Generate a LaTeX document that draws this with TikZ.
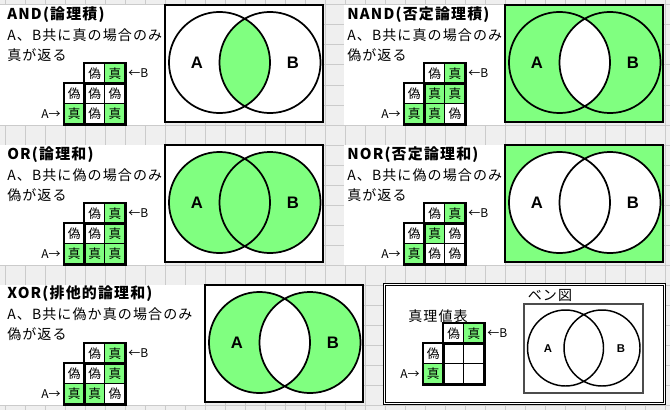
\documentclass[tikz,border=0pt]{standalone}
\usepackage{fontspec}
\setmainfont{Noto Sans CJK JP}
\newfontfamily\jpwide{Noto Sans CJK JP}[LetterSpace=8]
\newfontfamily\arial{Liberation Sans}
\usetikzlibrary{positioning}
\definecolor{vgreen}{HTML}{80FF80}
\definecolor{sheetbg}{HTML}{EFEFEF}
\definecolor{sheetgrid}{HTML}{CBCBCB}
\newcommand{\cellsz}{20.4}
\newcommand{\vrad}{37.9pt}

% truth table: prefix, x, y of top-left corner, then the four result cells
\newcommand{\truthtab}[7]{%
  \node[fv] (#1-b0) at (#2+1.5*\cellsz,#3+0.5*\cellsz) {};
  \node[tv] (#1-b1) at (#2+2.5*\cellsz,#3+0.5*\cellsz) {};
  \node[fv] (#1-a0) at (#2+0.5*\cellsz,#3+1.5*\cellsz) {};
  \node[tv] (#1-a1) at (#2+0.5*\cellsz,#3+2.5*\cellsz) {};
  \node[#4] (#1-d00) at (#2+1.5*\cellsz,#3+1.5*\cellsz) {};
  \node[#5] (#1-d01) at (#2+2.5*\cellsz,#3+1.5*\cellsz) {};
  \node[#6] (#1-d10) at (#2+1.5*\cellsz,#3+2.5*\cellsz) {};
  \node[#7] (#1-d11) at (#2+2.5*\cellsz,#3+2.5*\cellsz) {};
  \draw[tabframe] (#1-b0.north west) rectangle (#1-b1.south east);
  \draw[tabframe] (#1-a0.north west) rectangle (#1-a1.south east);
  \draw[tabframe] (#1-d00.north west) rectangle (#1-d11.south east);
  \node[arrtxt, right=1pt of #1-b1] (#1-bl) {←B};
  \node[arrtxt, left=1pt of #1-a1] (#1-al) {A→};
}

% venn box: prefix, x, y of top-left corner, fill code
\newcommand{\vennbox}[4]{%
  \coordinate (#1-nw) at (#2,#3);
  \coordinate (#1-se) at (#2+158,#3+117);
  \coordinate (#1-ca) at (#2+54.5,#3+57.5);
  \coordinate (#1-cb) at (#2+105,#3+57.5);
  \fill[white] (#1-nw) rectangle (#1-se);
  #4
  \draw[ring] (#1-ca) circle[radius=\vrad] (#1-cb) circle[radius=\vrad];
  \draw[vframe] (#1-nw) rectangle (#1-se);
  \node[vlabel] (#1-la) at (#2+32,#3+58) {A};
  \node[vlabel] (#1-lb) at (#2+128,#3+58) {B};
}

\begin{document}
\begin{tikzpicture}[x=0.75pt, y=-0.75pt,
  cell/.style={draw, line width=0.5pt, minimum size=15.3pt, inner sep=0pt, font=\fontsize{9.5}{10}\selectfont},
  tv/.style={cell, fill=vgreen, execute at begin node={真}},
  fv/.style={cell, fill=white, execute at begin node={偽}},
  ev/.style={cell, fill=white},
  tabframe/.style={line width=1.6pt},
  arrtxt/.style={inner sep=1pt, font=\fontsize{9}{10}\selectfont},
  ring/.style={line width=1.3pt},
  vframe/.style={line width=1.7pt},
  vlabel/.style={font=\arial\bfseries\fontsize{12.5}{14}\selectfont},
  optitle/.style={anchor=west, inner sep=0pt, font=\jpwide\bfseries\fontsize{11.2}{13}\selectfont},
  desc/.style={anchor=west, inner sep=0pt, align=left, font=\jpwide\fontsize{10.5}{15}\selectfont},
  panel/.style={fill=white}]
  % sheet background
  \useasboundingbox (0,0) rectangle (670,410);
  \fill[sheetbg] (0,0) rectangle (670,410);
  \foreach \gx in {5,25,...,665} {\draw[sheetgrid, line width=0.75pt] (\gx,0) -- (\gx,410);}
  \foreach \gy in {5,25,...,405} {\draw[sheetgrid, line width=0.75pt] (0,\gy) -- (670,\gy);}
  \fill[panel] (0,5) rectangle (165,125);
  \fill[panel] (344,5) rectangle (505,125);
  \fill[panel] (0,145) rectangle (165,265);
  \fill[panel] (344,145) rectangle (505,265);
  \fill[panel] (0,285) rectangle (205,405);
  \fill[panel] (383,283) rectangle (666,405);
  % AND
  \node[optitle] (and-title) at (7,15) {AND(論理積)};
  \node[desc] (and-desc) at (7,45) {A、B共に真の場合のみ\\真が返る};
  \truthtab{and}{64}{63}{fv}{fv}{fv}{tv}
  \vennbox{and}{165}{5}{\begin{scope}\clip (and-ca) circle[radius=\vrad]; \fill[vgreen] (and-cb) circle[radius=\vrad]; \end{scope}}
  % NAND
  \node[optitle] (nand-title) at (347,15) {NAND(否定論理積)};
  \node[desc] (nand-desc) at (347,45) {A、B共に真の場合のみ\\偽が返る};
  \truthtab{nand}{404}{63}{tv}{tv}{tv}{fv}
  \vennbox{nand}{505}{5}{\fill[vgreen] (nand-nw) rectangle (nand-se); \begin{scope}\clip (nand-ca) circle[radius=\vrad]; \fill[white] (nand-cb) circle[radius=\vrad]; \end{scope}}
  % OR
  \node[optitle] (or-title) at (7,155) {OR(論理和)};
  \node[desc] (or-desc) at (7,185) {A、B共に偽の場合のみ\\偽が返る};
  \truthtab{or}{64}{203}{fv}{tv}{tv}{tv}
  \vennbox{or}{165}{145}{\fill[vgreen] (or-ca) circle[radius=\vrad] (or-cb) circle[radius=\vrad];}
  % NOR
  \node[optitle] (nor-title) at (347,155) {NOR(否定論理和)};
  \node[desc] (nor-desc) at (347,185) {A、B共に偽の場合のみ\\真が返る};
  \truthtab{nor}{404}{203}{tv}{fv}{fv}{fv}
  \vennbox{nor}{505}{145}{\fill[vgreen] (nor-nw) rectangle (nor-se); \fill[white] (nor-ca) circle[radius=\vrad] (nor-cb) circle[radius=\vrad];}
  % XOR
  \node[optitle] (xor-title) at (7,294) {XOR(排他的論理和)};
  \node[desc] (xor-desc) at (7,324) {A、B共に偽か真の場合のみ\\偽が返る};
  \truthtab{xor}{64}{343}{fv}{tv}{tv}{fv}
  \vennbox{xor}{205}{285}{\fill[vgreen, even odd rule] (xor-ca) circle[radius=\vrad] (xor-cb) circle[radius=\vrad];}
  % legend
  \draw[double, line width=0.7pt, double distance=1.1pt] (384.3,284.3) rectangle (664.7,403.7);
  \node[desc, anchor=center] (key-title) at (438,316) {真理値表};
  \truthtab{key}{423}{323}{ev}{ev}{ev}{ev}
  \node[desc, anchor=center] (venn-title) at (550,295) {ベン図};
  \draw[fill=white, draw=black!70, line width=1.5pt] (524,304) rectangle (643,393);
  \coordinate (venn-ca) at (565.5,348);
  \coordinate (venn-cb) at (602,348);
  \draw[line width=1.1pt] (venn-ca) circle[radius=28.5pt] (venn-cb) circle[radius=28.5pt];
  \node[vlabel, font=\arial\bfseries\fontsize{8.5}{10}\selectfont] (venn-la) at (548,349) {A};
  \node[vlabel, font=\arial\bfseries\fontsize{8.5}{10}\selectfont] (venn-lb) at (621,349) {B};
\end{tikzpicture}
\end{document}
